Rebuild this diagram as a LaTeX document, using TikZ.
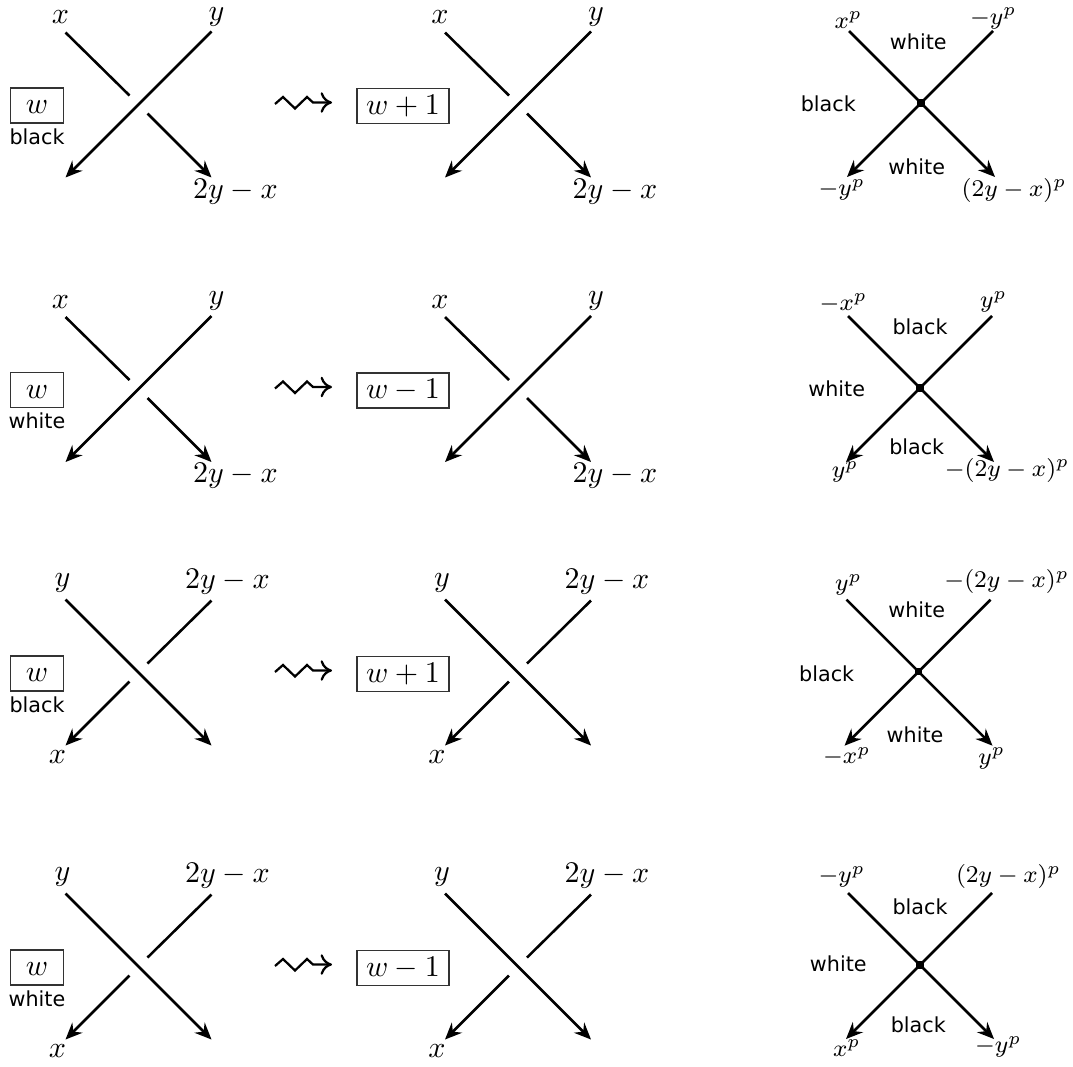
\documentclass[tikz,border=0pt]{standalone}
\usepackage{fontspec}
\newfontfamily\regionfont{DejaVu Sans}
\usetikzlibrary{arrows.meta}

\tikzset{
  strand/.style={line width=0.85pt},
  headed/.style={-{Stealth[length=5.6pt,width=4.8pt,inset=1.9pt]}},
  val/.style={inner sep=0pt},
  pval/.style={inner sep=0pt,font=\fontsize{8.4pt}{10pt}\selectfont},
  region/.style={inner sep=0pt,font=\regionfont\fontsize{6.9pt}{8pt}\selectfont},
  weight/.style={draw=black!80,line width=0.45pt,inner sep=0pt,
    minimum height=11.7pt,text height=7pt,text depth=1.5pt},
  squig/.style={line width=0.75pt,line join=miter,
    -{Computer Modern Rightarrow[length=3.8pt,width=6.8pt,line width=0.75pt]}},
  vertexdot/.style={rectangle,fill=black,inner sep=0pt,minimum size=2.4pt},
}

% crossing whose over-strand runs NE -> SW
\newcommand{\crossA}[3]{%
  \coordinate (#1nw) at ({#2-73},{#3-72});
  \coordinate (#1ne) at ({#2+73},{#3-73});
  \coordinate (#1sw) at ({#2-73},{#3+73});
  \coordinate (#1se) at ({#2+73},{#3+73});
  \coordinate (#1gu) at ({#2-9},{#3-9});
  \coordinate (#1gd) at ({#2+9},{#3+9});
  \draw[strand,headed] (#1ne) -- (#1sw);
  \draw[strand] (#1nw) -- (#1gu);
  \draw[strand,headed] (#1gd) -- (#1se);
  \node[val] (#1lx) at ({#2-78},{#3-87}) {$x$};
  \node[val] (#1ly) at ({#2+78},{#3-88}) {$y$};
  \node[val] (#1lz) at ({#2+97},{#3+87}) {$2y-x$};
}

% crossing whose over-strand runs NW -> SE
\newcommand{\crossB}[3]{%
  \coordinate (#1nw) at ({#2-73},{#3-73});
  \coordinate (#1ne) at ({#2+73},{#3-72});
  \coordinate (#1sw) at ({#2-73},{#3+73});
  \coordinate (#1se) at ({#2+73},{#3+73});
  \coordinate (#1gu) at ({#2+9},{#3-9});
  \coordinate (#1gd) at ({#2-9},{#3+9});
  \draw[strand,headed] (#1nw) -- (#1se);
  \draw[strand] (#1ne) -- (#1gu);
  \draw[strand,headed] (#1gd) -- (#1sw);
  \node[val] (#1ly) at ({#2-76},{#3-90}) {$y$};
  \node[val] (#1lz) at ({#2+89},{#3-91}) {$2y-x$};
  \node[val] (#1lx) at ({#2-81},{#3+85}) {$x$};
}

% weight boxes and the squiggly arrow between them
\newcommand{\weightrow}[5]{%
  \node[weight,minimum width=17.7pt] (#1w) at (37,{#2+1}) {$#3$};
  \node[region] (#1c) at (37,{#2+32}) {#4};
  \coordinate (#1sa) at (275,{#2-0.5});
  \coordinate (#1sb) at (332,{#2-2});
  \draw[squig] (#1sa) -- ++(8,-7) -- ++(12,11.5) -- ++(12,-11.5) -- ++(6,5.5) -- (#1sb);
  \node[weight,minimum width=30.7pt] (#1v) at (403,{#2+1.5}) {$#5$};
}

% four-valent vertex with its outgoing edges
\newcommand{\planar}[3]{%
  \coordinate (#1c) at (#2,#3);
  \coordinate (#1nw) at ({#2-72},{#3-72});
  \coordinate (#1ne) at ({#2+72},{#3-72});
  \coordinate (#1sw) at ({#2-74},{#3+74});
  \coordinate (#1se) at ({#2+74},{#3+74});
  \draw[strand,headed] (#1nw) -- (#1se);
  \draw[strand,headed] (#1ne) -- (#1sw);
  \node[vertexdot] (#1v) at (#1c) {};
}

\begin{document}
\begin{tikzpicture}[x=0.33333pt,y=-0.33333pt]
\useasboundingbox (0,0) rectangle (1073,1066);

% ---------- row 1 ----------
\weightrow{ra}{104.5}{w}{black}{w+1}
\crossA{raL}{138.5}{104.5}
\crossA{raR}{518}{104.5}
\planar{raP}{921}{103}
\node[pval] (raP1) at (848.3,20) {$x^p$};
\node[pval] (raP2) at (993.3,18.3) {$-y^p$};
\node[region] (raP3) at (918.3,41.7) {white};
\node[region] (raP4) at (828.3,103.3) {black};
\node[region] (raP5) at (916.7,166.7) {white};
\node[pval] (raP6) at (841.7,190) {$-y^p$};
\node[pval] (raP7) at (1014,190) {$(2y-x)^p$};

% ---------- row 2 ----------
\weightrow{rb}{389}{w}{white}{w-1}
\crossA{rbL}{138.5}{389}
\crossA{rbR}{518}{389}
\planar{rbP}{920}{388}
\node[pval] (rbP1) at (843.3,303.3) {$-x^p$};
\node[pval] (rbP2) at (993.3,301.7) {$y^p$};
\node[region] (rbP3) at (920,326.7) {black};
\node[region] (rbP4) at (836.7,388.3) {white};
\node[region] (rbP5) at (916.7,446.7) {black};
\node[pval] (rbP6) at (845,471.7) {$y^p$};
\node[pval] (rbP7) at (1007,470) {$-(2y-x)^p$};

% ---------- row 3 ----------
\weightrow{rc}{672.5}{w}{black}{w+1}
\crossB{rcL}{138.5}{672.5}
\crossB{rcR}{518}{672.5}
\planar{rcP}{918.5}{671.7}
\node[pval] (rcP1) at (848.3,585) {$y^p$};
\node[pval] (rcP2) at (1006.7,581.7) {$-(2y-x)^p$};
\node[region] (rcP3) at (916.7,610) {white};
\node[region] (rcP4) at (826.7,673.3) {black};
\node[region] (rcP5) at (915,735) {white};
\node[pval] (rcP6) at (846.7,756.7) {$-x^p$};
\node[pval] (rcP7) at (991.7,758.3) {$y^p$};

% ---------- row 4 ----------
\weightrow{rd}{966.5}{w}{white}{w-1}
\crossB{rdL}{138.5}{966.5}
\crossB{rdR}{518}{966.5}
\planar{rdP}{920}{965}
\node[pval] (rdP1) at (841.7,876.7) {$-y^p$};
\node[pval] (rdP2) at (1008.3,876.7) {$(2y-x)^p$};
\node[region] (rdP3) at (920,906.7) {black};
\node[region] (rdP4) at (838.3,963.3) {white};
\node[region] (rdP5) at (918.3,1025) {black};
\node[pval] (rdP6) at (846.7,1048.3) {$x^p$};
\node[pval] (rdP7) at (998.3,1046.7) {$-y^p$};
\end{tikzpicture}
\end{document}
